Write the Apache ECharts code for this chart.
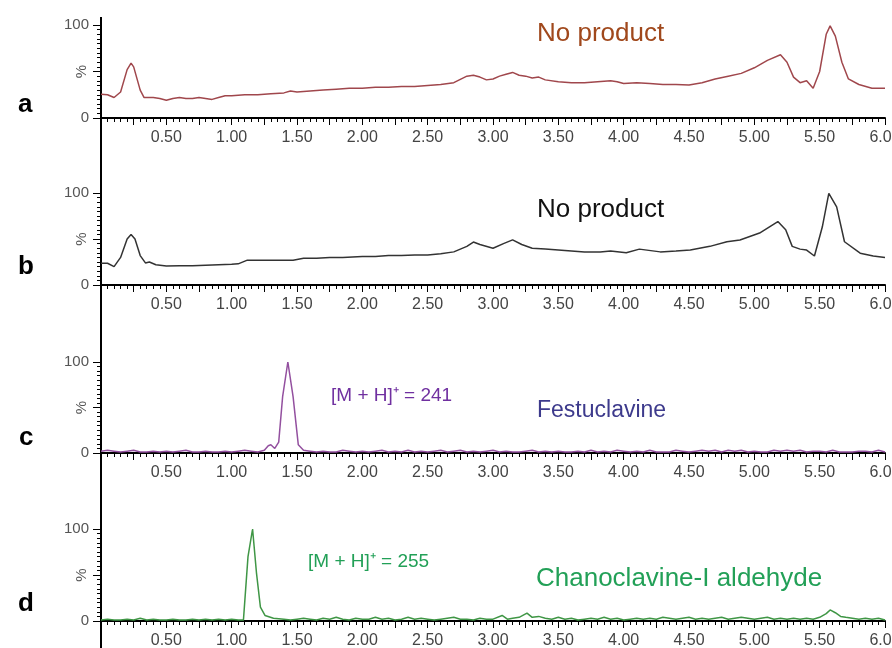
<!DOCTYPE html>
<html>
<head>
<meta charset="utf-8">
<script src="https://cdn.jsdelivr.net/npm/echarts@6/dist/echarts.min.js"></script>
<style>html,body{margin:0;padding:0;background:#fff}#c{width:892px;height:648px}</style>
</head>
<body>
<div id="c"></div>
<script>
// ---- data (retention time in min, relative intensity %) ----
var timesA = [0.00,0.05,0.10,0.15,0.20,0.23,0.25,0.30,0.33,0.40,0.45,0.50,0.55,0.60,0.65,0.70,0.75,0.80,0.85,0.90,0.95,1.00,1.10,1.20,1.30,1.40,1.45,1.50,1.60,1.70,1.80,1.90,2.00,2.10,2.20,2.30,2.40,2.50,2.60,2.70,2.80,2.85,2.90,2.95,3.00,3.05,3.10,3.15,3.20,3.25,3.30,3.35,3.40,3.50,3.60,3.70,3.80,3.90,3.95,4.00,4.10,4.20,4.30,4.40,4.50,4.60,4.70,4.80,4.90,5.00,5.10,5.20,5.25,5.30,5.35,5.40,5.45,5.50,5.55,5.58,5.62,5.67,5.72,5.80,5.90,6.00];
var valuesA = [25.5,25,22,28,52,59,55,30,22,22,21,19,21,22,21,21,22,21,20,22,24,24,25,25,26,27,29,28,29,30,31,32,32,33,33,34,34,35,36,38,45,46,44,41,42,45,47,49,46,45,43,44,41,39,38,38,39,40,39,37,38,37,36,36,35.5,38,42,45,48,54,62,68,60,44,38,40,32,50,90,99,88,60,42,36,32,32];

var timesB = [0.00,0.05,0.10,0.15,0.20,0.23,0.26,0.30,0.34,0.37,0.42,0.50,0.60,0.70,0.80,0.90,1.00,1.05,1.12,1.20,1.30,1.40,1.47,1.55,1.65,1.75,1.85,2.00,2.10,2.20,2.30,2.40,2.50,2.60,2.70,2.80,2.85,2.90,3.00,3.08,3.15,3.22,3.30,3.40,3.50,3.60,3.70,3.82,3.90,4.02,4.12,4.28,4.40,4.51,4.66,4.79,4.89,5.04,5.18,5.24,5.29,5.35,5.40,5.46,5.52,5.57,5.63,5.69,5.81,5.91,6.00];
var valuesB = [23.6,23.6,20,30,50,55,50,32,24,25,22,20.6,21,21,21.5,22,22.5,23,27,27,27,27,27,29,29,30,30,31,31,32,32,32.5,32.6,34,36,42,46.7,44,40,45,49,44,40,39,38,37,36,36,37,35,39,36,37,38,42,47,49,56.5,69,60,42,39,38,31.5,63,99.6,85,47,34.6,31.5,30];

var timesC = [0.00,0.05,0.10,0.15,0.20,0.25,0.30,0.35,0.40,0.45,0.50,0.55,0.60,0.65,0.70,0.75,0.80,0.85,0.90,0.95,1.00,1.05,1.10,1.15,1.20,1.25,1.28,1.30,1.33,1.36,1.39,1.43,1.47,1.51,1.55,1.60,1.65,1.70,1.75,1.80,1.85,1.90,1.95,2.00,2.05,2.10,2.15,2.20,2.25,2.30,2.35,2.40,2.45,2.50,2.55,2.60,2.65,2.70,2.75,2.80,2.85,2.90,2.95,3.00,3.05,3.10,3.15,3.20,3.25,3.30,3.35,3.40,3.45,3.50,3.55,3.60,3.65,3.70,3.75,3.80,3.85,3.90,3.95,4.00,4.05,4.10,4.15,4.20,4.25,4.30,4.35,4.40,4.45,4.50,4.55,4.60,4.65,4.70,4.75,4.80,4.85,4.90,4.95,5.00,5.05,5.10,5.15,5.20,5.25,5.30,5.35,5.40,5.45,5.50,5.55,5.60,5.65,5.70,5.75,5.80,5.85,5.90,5.95,6.00];
var valuesC = [2,3,2,1,2,3,1,1,2,1,2,1,2,3,1,1,2,1,1,2,1,2,3,2,1,3,8,9,5,12,62,100,62,9,3,2,1,2,1,1,3,2,1,2,1,2,3,1,2,1,3,1,2,1,2,3,1,2,3,1,2,1,2,3,1,2,1,1,2,3,1,2,1,2,1,1,2,1,3,1,2,1,3,2,1,2,1,3,1,1,1,3,2,1,2,3,2,3,1,3,2,3,1,2,1,1,3,2,3,2,3,1,2,2,1,3,1,1,1,2,2,1,3,1];

var timesD = [0.00,0.05,0.10,0.15,0.20,0.25,0.30,0.35,0.40,0.45,0.50,0.55,0.60,0.65,0.70,0.75,0.80,0.85,0.90,0.95,1.00,1.05,1.09,1.125,1.16,1.19,1.22,1.255,1.32,1.40,1.45,1.50,1.55,1.60,1.65,1.70,1.75,1.80,1.85,1.90,1.95,2.00,2.05,2.10,2.15,2.20,2.25,2.30,2.35,2.40,2.45,2.50,2.55,2.60,2.65,2.70,2.75,2.80,2.85,2.90,2.95,3.00,3.07,3.11,3.15,3.20,3.26,3.30,3.35,3.40,3.45,3.50,3.55,3.60,3.65,3.70,3.75,3.80,3.85,3.90,3.95,4.00,4.05,4.10,4.15,4.20,4.25,4.30,4.35,4.40,4.45,4.50,4.55,4.60,4.65,4.70,4.75,4.80,4.85,4.90,4.95,5.00,5.05,5.10,5.15,5.20,5.25,5.30,5.35,5.40,5.45,5.50,5.55,5.58,5.62,5.66,5.70,5.75,5.80,5.85,5.90,5.95,6.00];
var valuesD = [1,2,1,1,2,1,3,1,2,1,1,2,1,1,2,1,2,1,2,1,2,1,1,70,100,52,15,6,3,2,1,2,3,2,1,3,2,4,2,1,3,2,2,4,2,3,1,2,4,2,3,2,1,2,3,4,2,2,1,3,2,2,6,2,3,4,8.5,4,5,3,2,4,2,3,1,2,3,2,4,2,3,1,2,3,2,3,2,4,3,2,3,4,2,3,2,3,4,2,3,4,3,2,3,4,2,3,2,3,2,3,2,4,8,12,9,5,4,3,2,3,2,3,1];

var xTickStep = 0.25;
var yTicks = [0, 50, 100];

// ---- build ----
function pairs(t, v) { return t.map(function (x, i) { return [x, v[i]]; }); }
var panels = [
  {t: timesA, v: valuesA, color: '#a0474c', top: 25, height: 93},
  {t: timesB, v: valuesB, color: '#333333', top: 193, height: 92},
  {t: timesC, v: valuesC, color: '#93509f', top: 362, height: 91},
  {t: timesD, v: valuesD, color: '#3f9645', top: 529, height: 92}
];
var font = 'Arial, "Liberation Sans", sans-serif';
var grids = [], xAxes = [], yAxes = [], series = [];
panels.forEach(function (p, i) {
  grids.push({left: 101, right: 7, top: p.top, height: p.height, containLabel: false, outerBoundsMode: 'none'});
  xAxes.push({
    type: 'value', gridIndex: i, min: 0, max: 6, interval: xTickStep,
    axisLine: {show: true, onZero: false, lineStyle: {color: '#000', width: 2}},
    axisTick: {show: true, length: 7, lineStyle: {color: '#000', width: 1}},
    minorTick: {show: true, splitNumber: 5, length: 4, lineStyle: {color: '#000', width: 1}},
    splitLine: {show: false}, minorSplitLine: {show: false},
    axisLabel: {
      margin: 12, color: '#444', fontSize: 16, fontFamily: font,
      formatter: function (val) {
        var d = val * 2;
        return (val > 0 && Math.abs(d - Math.round(d)) < 1e-6) ? val.toFixed(2) : '';
      }
    }
  });
  yAxes.push({
    type: 'value', gridIndex: i, min: yTicks[0], max: yTicks[2], interval: yTicks[1] - yTicks[0],
    axisLine: {show: true, lineStyle: {color: '#000', width: 2}},
    axisTick: {show: true, length: 8, lineStyle: {color: '#000', width: 1}},
    minorTick: {show: true, splitNumber: 10, length: 4, lineStyle: {color: '#000', width: 1}},
    splitLine: {show: false},
    axisLabel: {margin: 12, color: '#555', fontSize: 15, fontFamily: font,
      formatter: function (val) { return val === yTicks[1] ? '' : String(val); }},
    name: '%', nameLocation: 'middle', nameRotate: 90, nameGap: 12, nameMoveOverlap: false,
    nameTextStyle: {color: '#555', fontSize: 15, fontFamily: font}
  });
  series.push({
    type: 'line', xAxisIndex: i, yAxisIndex: i, data: pairs(p.t, p.v),
    showSymbol: false, symbol: 'none', smooth: false, animation: false,
    lineStyle: {color: p.color, width: 1.5}
  });
});

function txt(x, y, s, color, size, weight) {
  return {type: 'text', left: x, top: y, silent: true,
    style: {text: s, fill: color, font: (weight || 'normal') + ' ' + size + 'px ' + font}};
}

var chart = echarts.init(document.getElementById('c'), null, {renderer: 'canvas'});
chart.setOption({
  backgroundColor: '#fff',
  animation: false,
  grid: grids, xAxis: xAxes, yAxis: yAxes, series: series,
  graphic: [
    {type: 'line', shape: {x1: 101, y1: 17, x2: 101, y2: 648}, style: {stroke: '#000', lineWidth: 2}, silent: true},
    txt(18, 92, 'a', '#000', 26, 'bold'),
    txt(18, 254, 'b', '#000', 26, 'bold'),
    txt(19, 425, 'c', '#000', 26, 'bold'),
    txt(18, 591, 'd', '#000', 26, 'bold'),
    txt(537, 21, 'No product', '#a0481c', 26),
    txt(537, 197, 'No product', '#111', 26),
    txt(331, 386, '[M + H]\u207A = 241', '#7030a0', 19),
    txt(537, 399, 'Festuclavine', '#3d3a8c', 23),
    txt(308, 552, '[M + H]\u207A = 255', '#22a057', 19),
    txt(536, 566, 'Chanoclavine-I aldehyde', '#22a057', 26)
  ]
});
</script>
</body>
</html>
